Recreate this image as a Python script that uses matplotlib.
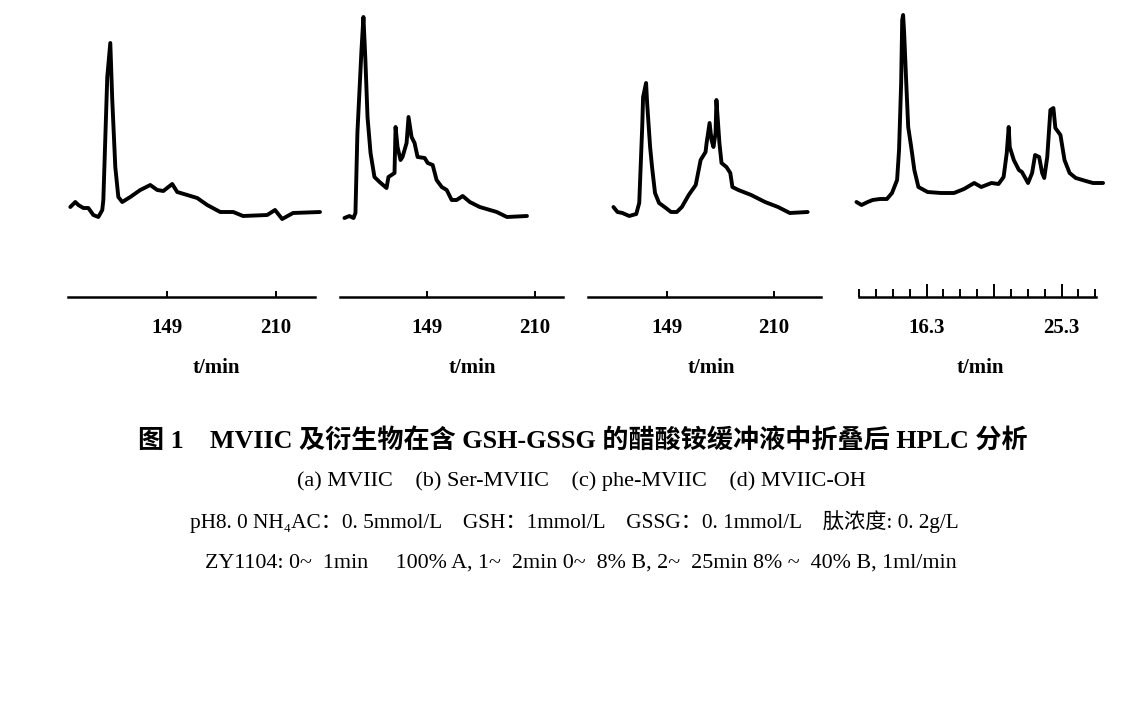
import matplotlib
matplotlib.use("Agg")
import matplotlib.pyplot as plt

# ---------------- data (time in min, signal in arbitrary units) ----------------
t_a = [94.7, 97.5, 99.2, 102.0, 104.8, 107.6, 110.4, 112.6, 113.2, 115.4, 117.1, 118.2,
       119.9, 121.6, 123.8, 128.3, 133.9, 139.5, 143.4, 146.8, 151.8, 154.6, 160.2,
       165.8, 171.4, 178.7, 186.0, 191.5, 205.0, 209.4, 213.4, 219.5, 234.6]
s_a = [89, 94, 91, 88, 88, 81, 79, 86, 96, 219, 253, 196,
       129, 99, 94, 99, 106, 111, 106, 105, 112, 104, 101,
       98, 91, 84, 84, 80, 81, 86, 77, 83, 84]

t_b = [102.7, 105.5, 107.8, 108.9, 110.0, 112.3, 113.4, 114.5, 115.7, 117.4, 119.6,
       122.5, 126.4, 127.5, 130.9, 131.5, 132.6, 134.3, 135.4, 137.7, 138.8, 140.5,
       142.2, 143.9, 147.9, 149.6, 152.4, 154.6, 157.5, 160.3, 163.1, 165.9, 169.3,
       173.3, 178.9, 188.5, 194.2, 205.5]
s_b = [78, 80, 78, 83, 163, 246, 279, 236, 179, 143, 119,
       114, 108, 119, 123, 169, 149, 136, 139, 153, 179, 159,
       153, 139, 138, 133, 131, 116, 109, 106, 96, 96, 100,
       94, 89, 84, 79, 80]

t_c = [118.5, 120.8, 123.6, 127.5, 131.5, 133.2, 134.9, 135.4, 137.1, 137.7, 139.4,
       140.5, 142.2, 144.5, 148.4, 151.3, 154.6, 157.5, 161.4, 165.4, 168.2, 171.0,
       171.6, 173.3, 174.4, 175.5, 176.7, 177.2, 178.9, 180.1, 182.9, 185.1, 186.3,
       189.7, 197.0, 204.9, 212.3, 219.0, 229.2]
s_c = [89, 84, 83, 80, 82, 93, 169, 199, 213, 193, 149,
       129, 103, 93, 88, 84, 84, 89, 101, 111, 136, 144,
       153, 173, 156, 149, 163, 196, 153, 133, 129, 123, 109,
       106, 101, 94, 89, 83, 84]

t_d = [11.63, 11.97, 12.38, 12.71, 13.19, 13.66, 14.00, 14.34, 14.47, 14.61, 14.68,
       14.74, 14.81, 14.95, 15.08, 15.28, 15.49, 15.76, 16.37, 17.25, 18.13, 18.80,
       19.48, 19.95, 20.63, 21.10, 21.44, 21.65, 21.78, 21.85, 22.12, 22.46, 22.66,
       23.07, 23.34, 23.54, 23.81, 24.01, 24.15, 24.35, 24.56, 24.76, 24.89, 25.23,
       25.50, 25.84, 26.25, 26.92, 27.40, 28.07]
s_d = [94, 91, 94, 96, 97, 97, 103, 116, 146, 213, 276,
       281, 263, 213, 169, 149, 126, 109, 104, 103, 103, 107,
       113, 109, 113, 112, 119, 143, 169, 149, 136, 126, 124,
       113, 123, 141, 139, 123, 118, 139, 186, 188, 168, 161,
       136, 123, 118, 115, 113, 113]

ticks_abc = [149, 210]
ticklabels_abc = ['149', '210']
ticks_d_major = [16.3, 20.8, 25.3]
ticklabels_d_major = ['16.3', '', '25.3']
ticks_d_minor = [11.8, 12.925, 14.05, 15.175, 17.425, 18.55, 19.675,
                 21.925, 23.05, 24.175, 26.425, 27.55]
xlabel = 't/min'

title = '图 1　MVIIC 及衍生物在含 GSH-GSSG 的醋酸铵缓冲液中折叠后 HPLC 分析'
line2 = '(a) MVIIC    (b) Ser-MVIIC    (c) phe-MVIIC    (d) MVIIC-OH'
line3 = 'pH8. 0 NH\u2084AC：0. 5mmol/L    GSH：1mmol/L    GSSG：0. 1mmol/L    肽浓度: 0. 2g/L'
line4 = 'ZY1104: 0~  1min     100% A, 1~  2min 0~  8% B, 2~  25min 8% ~  40% B, 1ml/min'

# ---------------- figure ----------------
W, H = 1122, 704
fig = plt.figure(figsize=(W / 100, H / 100), dpi=100)

def fx(px):
    return px / W

def fy(py):
    return 1 - py / H

y_axis_px = 297
top_px = 8
panels = [
    # (left px, right px, t, s, xlim, tlabel x px)
    (68, 315, t_a, s_a, (93.4, 231.8), 216),
    (340, 563, t_b, s_b, (100.2, 225.8), 472),
    (588, 821, t_c, s_c, (104.0, 236.8), 711),
    (859, 1096, t_d, s_d, (11.8, 27.6), 980),
]

serif = ['Liberation Serif', 'DejaVu Serif']
for i, (l, r, t, s, xl, tlx) in enumerate(panels):
    ax = fig.add_axes([fx(l), fy(y_axis_px), fx(r - l), (y_axis_px - top_px) / H])
    ax.plot(t, s, color='black', lw=2.8, clip_on=False, solid_joinstyle='round',
            solid_capstyle='round')
    ax.set_xlim(*xl)
    ax.set_ylim(-1, 288)
    for side in ['top', 'left', 'right']:
        ax.spines[side].set_visible(False)
    ax.spines['bottom'].set_linewidth(1.8)
    ax.set_yticks([])
    ax.patch.set_alpha(0)
    if i < 3:
        ax.set_xticks(ticks_abc)
        ax.set_xticklabels(ticklabels_abc)
        ax.tick_params(axis='x', direction='in', length=4, width=1.4, pad=15)
    else:
        ax.set_xticks(ticks_d_major)
        ax.set_xticklabels(ticklabels_d_major)
        ax.set_xticks(ticks_d_minor, minor=True)
        ax.tick_params(axis='x', which='major', direction='in', length=9.5, width=1.4, pad=15)
        ax.tick_params(axis='x', which='minor', direction='in', length=6, width=1.4)
    for lab in ax.get_xticklabels():
        lab.set_fontfamily(serif)
        lab.set_fontsize(15)
        lab.set_fontweight('bold')
    fig.text(fx(tlx), fy(368), xlabel, ha='center', va='center',
             family=serif, fontsize=15, fontweight='bold')

mixed = ['Liberation Serif', 'Noto Sans CJK SC', 'DejaVu Sans']
fig.text(fx(583), fy(441), title, ha='center', va='center', family=mixed,
         fontsize=18.8, fontweight='bold')
fig.text(fx(581), fy(481), line2, ha='center', va='center', family=mixed, fontsize=16)
fig.text(fx(574), fy(522), line3, ha='center', va='center', family=mixed, fontsize=15.3)
fig.text(fx(581), fy(563), line4, ha='center', va='center', family=mixed, fontsize=15.8)

fig.savefig('out.png', dpi=100, facecolor='white')
